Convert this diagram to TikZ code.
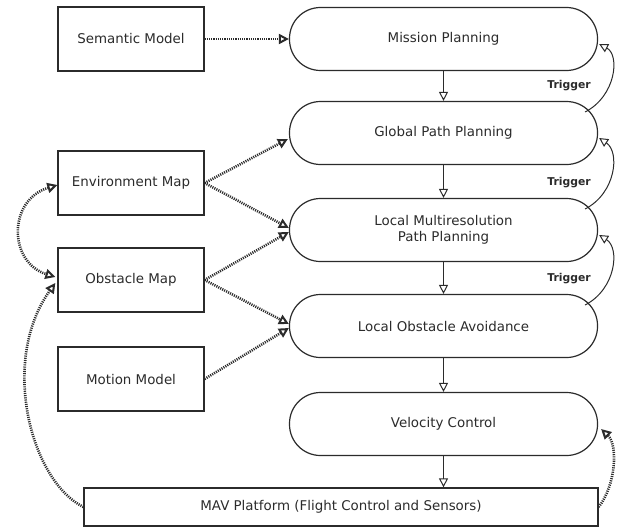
\documentclass[tikz,border=0pt]{standalone}
\usepackage{fontspec}
\setmainfont{DejaVu Sans}
\usetikzlibrary{arrows.meta,calc,shapes.misc}
\definecolor{ink}{HTML}{2B2B2B}
\begin{document}
\begin{tikzpicture}[x=1pt,y=-1pt,
  box/.style={draw=ink,line width=1.3pt,minimum width=146pt,minimum height=64pt,inner sep=0pt,font=\fontsize{13.4}{16}\selectfont,text=ink},
  stad/.style={draw=ink,line width=1.2pt,rounded corners=31pt,minimum width=308pt,minimum height=63pt,inner sep=0pt,align=center,font=\fontsize{13.4}{16}\selectfont,text=ink},
  flow/.style={draw=ink,line width=1pt,-{Triangle[open,length=9pt,width=9pt]}},
  trig/.style={draw=ink,line width=1pt,-{Triangle[open,length=9pt,width=9pt]}},
  dtip/.tip={Triangle[open,length=10pt,width=10pt,line width=2pt]},
  dat/.style={draw=ink,line width=2.6pt,dash pattern=on 1.1pt off 1.1pt,-dtip},
  dat2/.style={draw=ink,line width=2.6pt,dash pattern=on 1.1pt off 1.1pt,dtip-dtip},
  tlab/.style={font=\bfseries\fontsize{10.8}{12}\selectfont,text=ink}
]
\useasboundingbox (0,0) rectangle (617,527);
% left boxes
\node[box] (sm) at (131,39) {Semantic Model};
\node[box] (em) at (131,183) {Environment Map};
\node[box] (om) at (131,280) {Obstacle Map};
\node[box] (mm) at (131,379) {Motion Model};
\node[box,minimum width=514pt,minimum height=38pt] (mav) at (341,507) {MAV Platform (Flight Control and Sensors)};
% stadium nodes
\node[stad] (mp) at (443.5,39) {Mission Planning};
\node[stad] (gp) at (443.5,133) {Global Path Planning};
\node[stad] (lm) at (443.5,230) {Local Multiresolution\\Path Planning};
\node[stad] (la) at (443.5,326) {Local Obstacle Avoidance};
\node[stad] (vc) at (443.5,424) {Velocity Control};
% vertical flow
\draw[flow] (mp.south) -- (gp.north);
\draw[flow] (gp.south) -- (lm.north);
\draw[flow] (lm.south) -- (la.north);
\draw[flow] (la.south) -- (vc.north);
\draw[flow] (vc.south) -- (mav.north -| vc.south);
% triggers
\draw[trig] ($(gp.east)+(-13,-21)$) .. controls (616,96) and (620,55) .. ($(mp.east)+(1,5)$);
\draw[trig] ($(lm.east)+(-13,-21)$) .. controls (616,193) and (620,152) .. ($(gp.east)+(1,5)$);
\draw[trig] ($(la.east)+(-13,-21)$) .. controls (616,289) and (620,248) .. ($(lm.east)+(1,5)$);
\node[tlab] (t1) at (569,86) {Trigger};
\node[tlab] (t2) at (569,183) {Trigger};
\node[tlab] (t3) at (569,279) {Trigger};
% data arrows
\draw[dat] (sm.east) -- (mp.west);
\draw[dat] (em.east) -- ($(gp.west)+(-1,6)$);
\draw[dat] (em.east) -- ($(lm.west)+(0,-2)$);
\draw[dat] (om.east) -- ($(lm.west)+(0,2)$);
\draw[dat] (om.east) -- ($(la.west)+(0,-2)$);
\draw[dat] (mm.east) -- ($(la.west)+(0,2)$);
\draw[dat2] ($(em.west)+(0,2)$) .. controls (8,200) and (8,262) .. ($(om.west)+(-2,-3)$);
\draw[dat] (mav.west) .. controls (30,480) and (0,360) .. ($(om.west)+(-2,3)$);
\draw[dat] (mav.east) .. controls (616,485) and (618,445) .. ($(vc.east)+(3,5)$);
\end{tikzpicture}
\end{document}
